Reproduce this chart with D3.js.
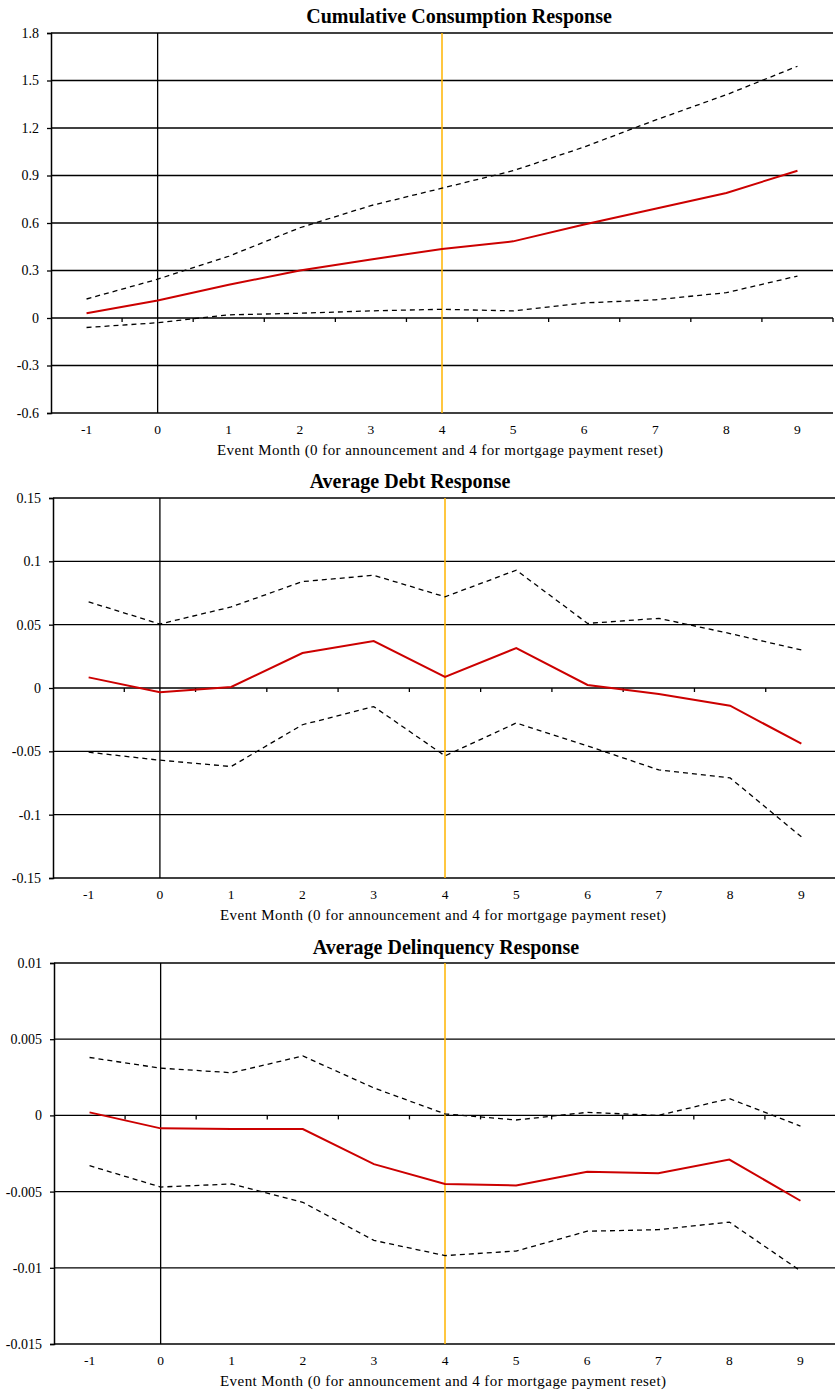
<!DOCTYPE html>
<html>
<head>
<meta charset="utf-8">
<script src="https://cdn.jsdelivr.net/npm/d3@7"></script>
<style>
  body { margin: 0; background: #fff; }
  svg { display: block; }
</style>
</head>
<body>
<div id="container"></div>
<script>
// event months (categories)
const months = [-1, 0, 1, 2, 3, 4, 5, 6, 7, 8, 9];

// cumulative consumption response
const consMean  = [0.03, 0.11, 0.21, 0.30, 0.37, 0.436, 0.484, 0.59, 0.69, 0.79, 0.93];
const consUpper = [0.12, 0.245, 0.39, 0.57, 0.71, 0.82, 0.93, 1.08, 1.25, 1.41, 1.59];
const consLower = [-0.06, -0.03, 0.02, 0.03, 0.045, 0.055, 0.045, 0.095, 0.115, 0.16, 0.265];
const consTicks = [-0.6, -0.3, 0, 0.3, 0.6, 0.9, 1.2, 1.5, 1.8];

// average debt response
const debtMean  = [0.0084, -0.0034, 0.0008, 0.0276, 0.037, 0.0087, 0.0315, 0.0024, -0.0047, -0.014, -0.044];
const debtUpper = [0.068, 0.0505, 0.064, 0.084, 0.089, 0.072, 0.093, 0.051, 0.055, 0.043, 0.030];
const debtLower = [-0.0507, -0.057, -0.062, -0.029, -0.0147, -0.0536, -0.0276, -0.0457, -0.0647, -0.071, -0.1175];
const debtTicks = [-0.15, -0.1, -0.05, 0, 0.05, 0.1, 0.15];

// average delinquency response
const delqMean  = [0.0002, -0.00085, -0.0009, -0.0009, -0.0032, -0.0045, -0.0046, -0.0037, -0.0038, -0.0029, -0.0056];
const delqUpper = [0.0038, 0.0031, 0.0028, 0.0039, 0.0018, 0.0001, -0.0003, 0.0002, 0.0, 0.0011, -0.0007];
const delqLower = [-0.0033, -0.0047, -0.0045, -0.0057, -0.0082, -0.0092, -0.0089, -0.0076, -0.0075, -0.007, -0.0102];
const delqTicks = [-0.015, -0.01, -0.005, 0, 0.005, 0.01];

const xTitle = 'Event Month (0 for announcement and 4 for mortgage payment reset)';
const serif = '"Liberation Serif", "Times New Roman", serif';

const svg = d3.select('#container').append('svg')
  .attr('width', 835)
  .attr('height', 1393);

function drawPanel(opt) {
  const g = svg.append('g');
  const x = d3.scaleBand()
    .domain(months)
    .range([opt.left, opt.right])
    .paddingInner(0)
    .paddingOuter(0);
  const cx = d => x(d) + x.bandwidth() / 2;
  const ticks = opt.ticks;
  const y = d3.scaleLinear()
    .domain([ticks[0], ticks[ticks.length - 1]])
    .range([opt.bottom, opt.top]);

  // horizontal gridlines
  g.selectAll('.grid')
    .data(ticks)
    .enter().append('line')
    .attr('class', 'grid')
    .attr('x1', opt.left)
    .attr('x2', opt.right)
    .attr('y1', d => y(d))
    .attr('y2', d => y(d))
    .style('stroke', '#000')
    .style('stroke-width', 1.3);

  // value axis
  const yAxis = d3.axisLeft(y)
    .tickValues(ticks)
    .tickSize(4)
    .tickPadding(8)
    .tickFormat(d => String(+d.toFixed(4)));
  const ya = g.append('g')
    .attr('transform', 'translate(' + opt.left + ',0)')
    .call(yAxis);
  ya.select('.domain').style('stroke', '#000').style('stroke-width', 1.5);
  ya.selectAll('.tick line').style('stroke', '#000').style('stroke-width', 1.3);
  ya.selectAll('.tick text')
    .style('font-size', '14px')
    .style('font-family', serif)
    .style('fill', '#000');

  // category tick marks on the zero line
  const bounds = months.map(d => x(d)).concat([opt.right]).slice(1);
  g.selectAll('.xtick')
    .data(bounds)
    .enter().append('line')
    .attr('x1', d => d)
    .attr('x2', d => d)
    .attr('y1', y(0))
    .attr('y2', y(0) + 4)
    .style('stroke', '#000')
    .style('stroke-width', 1.3);

  // category labels below plot
  g.selectAll('.xlab')
    .data(months)
    .enter().append('text')
    .attr('x', d => cx(d))
    .attr('y', opt.bottom + 21)
    .attr('text-anchor', 'middle')
    .style('font-family', serif)
    .style('font-size', '13.5px')
    .text(d => d);

  g.append('text')
    .attr('x', (opt.left + opt.right) / 2 - 2)
    .attr('y', opt.bottom + 42)
    .attr('text-anchor', 'middle')
    .attr('textLength', 446)
    .attr('lengthAdjust', 'spacing')
    .style('font-family', serif)
    .style('font-size', '15px')
    .text(xTitle);

  // announcement and reset markers
  g.append('line')
    .attr('x1', cx(0)).attr('x2', cx(0))
    .attr('y1', opt.top).attr('y2', opt.bottom)
    .style('stroke', '#000')
    .style('stroke-width', 1.3);
  g.append('line')
    .attr('x1', cx(4)).attr('x2', cx(4))
    .attr('y1', opt.top).attr('y2', opt.bottom)
    .style('stroke', '#ffb400')
    .style('stroke-width', 1.5);

  const line = d3.line()
    .x((d, i) => cx(months[i]))
    .y(d => y(d));

  [opt.upper, opt.lower].forEach(s => {
    g.append('path')
      .datum(s)
      .attr('d', line)
      .style('fill', 'none')
      .style('stroke', '#000')
      .style('stroke-width', 1.3)
      .style('stroke-dasharray', '5,4');
  });
  g.append('path')
    .datum(opt.mean)
    .attr('d', line)
    .style('fill', 'none')
    .style('stroke', '#cc0000')
    .style('stroke-width', 2);

  g.append('text')
    .attr('x', opt.titleX)
    .attr('y', opt.titleY)
    .attr('text-anchor', 'middle')
    .style('font-family', serif)
    .style('font-size', '20px')
    .style('font-weight', 'bold')
    .text(opt.title);
}

drawPanel({
  title: 'Cumulative Consumption Response', titleX: 459, titleY: 23,
  left: 51, right: 833, top: 33, bottom: 413,
  ticks: consTicks, mean: consMean, upper: consUpper, lower: consLower
});
drawPanel({
  title: 'Average Debt Response', titleX: 410, titleY: 488,
  left: 53, right: 837, top: 498, bottom: 878,
  ticks: debtTicks, mean: debtMean, upper: debtUpper, lower: debtLower
});
drawPanel({
  title: 'Average Delinquency Response', titleX: 446, titleY: 954,
  left: 54, right: 836, top: 963, bottom: 1344,
  ticks: delqTicks, mean: delqMean, upper: delqUpper, lower: delqLower
});
</script>
</body>
</html>
